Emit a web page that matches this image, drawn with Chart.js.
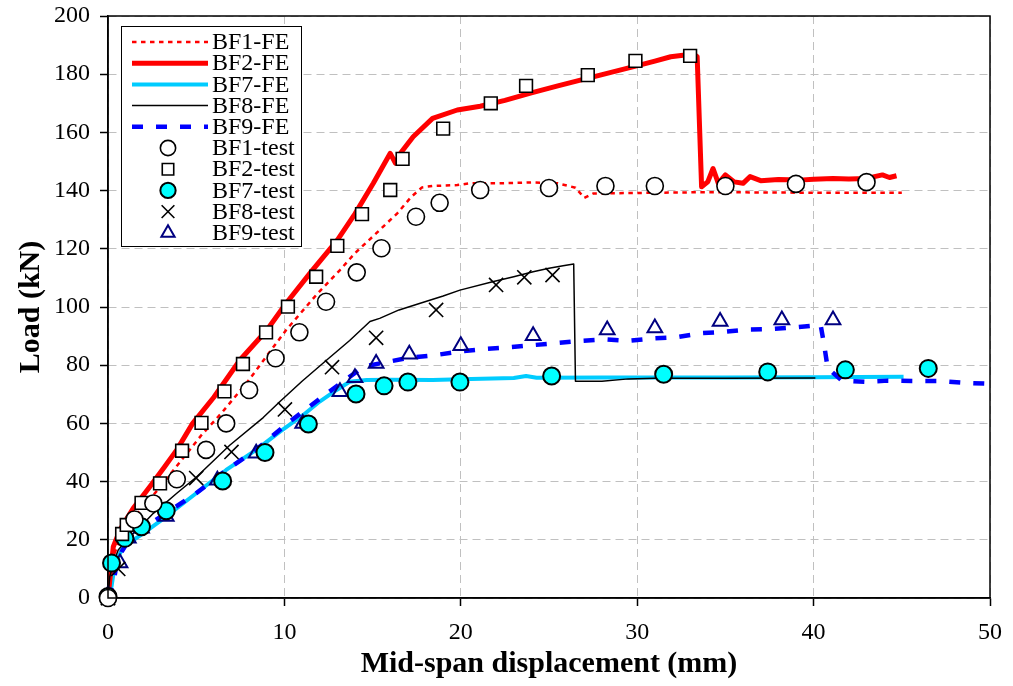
<!DOCTYPE html>
<html><head><meta charset="utf-8">
<script src="https://cdn.jsdelivr.net/npm/chart.js@4.4.1/dist/chart.umd.min.js"></script>
<style>html,body{margin:0;padding:0;background:#fff;}#wrap{width:1013px;height:686px;}</style>
</head><body><div id="wrap"><canvas id="c" width="1013" height="686"></canvas></div>
<script>
const xTickValues = [0, 10, 20, 30, 40, 50];
const yTickValues = [0, 20, 40, 60, 80, 100, 120, 140, 160, 180, 200];
const xTitle = 'Mid-span displacement (mm)';
const yTitle = 'Load (kN)';
const legendOrder = ['BF1-FE','BF2-FE','BF7-FE','BF8-FE','BF9-FE','BF1-test','BF2-test','BF7-test','BF8-test','BF9-test'];

// FE curves
const bf1FeX = [0,0.1,0.3,0.7,1.5,2.8,4.25,5.3,6.5,8,9.1,10.1,11.8,13.15,14,15.2,16.4,17.2,17.8,18.4,19.8,20.5,22,24,25.5,26.5,27,27.5,30,33,36,39,42,45];
const bf1FeY = [0,6,14,21,28,37,48,56,64,75,84,92.1,104.1,112.7,118.5,125.3,132.2,137.9,141.1,141.6,141.9,142.5,142.5,142.8,142.5,141,137.5,139,139.2,139.4,139.4,139.3,139.3,139.3];
const bf2FeX = [0,0.1,0.3,0.68,1.43,2.38,3.2,3.9,4.8,6,7.48,9,10.1,11.5,13,14,15.04,16,16.3,16.6,17.3,18.4,19.8,21.1,22.5,24,25.5,27,27.9,29.8,31,31.9,32.6,33.2,33.4,33.65,34,34.3,34.6,35,35.5,36,36.4,37,38,39.2,40,41.1,42,43,43.9,44.3,44.7];
const bf2FeY = [0,6,17.6,23.4,30.8,38.3,45,50.9,60,69,81.8,92,101.3,112,123,132,142.5,152.8,149.4,153,158.5,164.8,167.7,169,171,173.6,176,178.3,179.7,182.6,184.5,186,186.5,187,186,141.3,143,147.6,142.5,145.4,143,142.5,144.8,143.4,143.8,143.6,143.9,144.2,144,144.2,145.4,144.5,145.1];
const bf7FeX = [0,0.2,0.4,0.87,2,3.3,5,6.7,8.4,9.75,11.07,12,12.96,13.7,14.66,16,18.4,20,23,23.7,24.3,28,35,40,45.1];
const bf7FeY = [0,4,12,17.6,22.2,28,36,44,50.9,57.2,62.9,67.5,71.5,74.3,74.9,75,74.9,75.2,75.6,76.3,75.7,75.8,75.8,75.9,76];
const bf8FeX = [0,0.1,0.3,0.58,1.0,1.43,2.0,2.57,3.9,5.0,6.9,8.8,9.75,11,12.4,13.7,14.85,15.4,16.5,17.7,19,19.95,21.8,23,24.1,25,25.8,26.4,26.5,28,29.5,31,35,40.1];
const bf8FeY = [0,7.3,12,16.5,19.5,22.2,25.5,29.1,36,41.5,52.5,62,67.5,74.5,81.8,88.5,95,96.1,99,101.3,103.8,105.8,108.7,110.4,112.1,113.3,114.2,114.8,74.5,74.5,75.3,75.5,75.5,75.6];
const bf9FeX = [0,0.2,0.3,0.5,0.78,1.2,2.0,3.0,4.0,5,6.5,8.4,10.3,11.8,13.06,14.5,15.9,17,18.6,20,21.4,22.8,24.1,25.4,26.85,28.2,29.5,30.9,32.2,33.65,35,36.4,37.6,39,40.4,40.6,40.8,41.6,42.9,44.2,45.6,47,48.4,50];
const bf9FeY = [0,3,5,12,16,20,24,28,32,36,43,51,60.6,67.5,73.2,79.5,81.2,82.5,83.5,84.8,85.6,86.2,86.9,87.6,88.4,88.9,88.4,89.2,89.6,91,91.5,92.3,92.4,93,93.8,86.9,79,74.7,74.3,74.7,74.6,74.6,74,73.6];

// Test points
const bf1TestX = [0,1.5,2.57,3.9,5.56,6.7,8,9.5,10.85,12.36,14.1,15.5,17.46,18.8,21.1,25,28.2,31,35,39,43];
const bf1TestY = [0,27,32.5,40.8,50.9,60,71.5,82.4,91.3,101.8,111.9,120.2,131,135.8,140.2,140.9,141.6,141.6,141.6,142.3,142.9];
const bf2TestX = [0,0.8,1.06,1.9,2.95,4.2,5.3,6.6,7.65,8.96,10.2,11.8,13,14.4,16,16.7,19,21.7,23.7,27.2,29.9,33];
const bf2TestY = [0,22,25.1,32.7,39.4,50.6,60.2,71,80.4,91.3,100.1,110.4,121,131.9,140.2,150.9,161.3,170,176,179.7,184.6,186.3];
const bf7TestX = [0,0.2,0.96,1.9,3.3,6.5,8.9,11.36,14.06,15.65,17,19.95,25.15,31.5,37.4,41.8,46.5];
const bf7TestY = [0.5,12,20.5,24.5,30,40.2,50,59.8,70.1,72.9,74.2,74.2,76.3,76.9,77.7,78.4,78.9];
const bf8TestX = [0,0.58,5,7,10.03,12.7,15.2,18.6,22,23.6,25.2];
const bf8TestY = [0,10,41.2,50.2,64.8,79.3,89.4,99,107.6,110.2,111];
const bf9TestX = [0,0.68,1.15,1.9,3.3,6.2,8.4,11.04,13.15,14,15.2,17.08,20,24.1,28.3,31,34.7,38.2,41.1];
const bf9TestY = [1,12,20.5,24,28,40.5,49.7,60,70.9,75.7,80.6,83.8,86.7,90.1,92.1,92.8,95,95.5,95.5];

const pts = (xs, ys) => xs.map((x, i) => ({x: x, y: ys[i]}));
const SERIF = '"Liberation Serif", "Times New Roman", serif';

function feSet(label, xs, ys, color, width, dash, order) {
  return {label, data: pts(xs, ys), showLine: true, borderColor: color, backgroundColor: color,
    borderWidth: width, borderDash: dash, pointRadius: 0, pointHoverRadius: 0, tension: 0, fill: false, order: order,
    borderCapStyle: 'butt', borderJoinStyle: 'round'};
}
function testSet(label, xs, ys, style, radius, fill, stroke, bw) {
  return {label, data: pts(xs, ys), showLine: false, pointStyle: style, pointRadius: radius, pointHoverRadius: radius,
    backgroundColor: fill, borderColor: stroke, pointBorderWidth: bw, borderWidth: bw, order: 0, clip: false};
}

const datasets = [
  testSet('BF1-test', bf1TestX, bf1TestY, 'circle', 8.5, '#ffffff', '#000000', 1.6),
  testSet('BF2-test', bf2TestX, bf2TestY, 'rect', 9, '#ffffff', '#000000', 1.6),
  testSet('BF7-test', bf7TestX, bf7TestY, 'circle', 8.5, '#00ffff', '#000000', 2),
  testSet('BF8-test', bf8TestX, bf8TestY, 'crossRot', 10, '#000000', '#000000', 1.6),
  testSet('BF9-test', bf9TestX, bf9TestY, 'triangle', 8.5, 'rgba(0,0,0,0)', '#000080', 2),
  feSet('BF9-FE', bf9FeX, bf9FeY, '#0000ff', 4.5, [11, 13], 1),
  feSet('BF8-FE', bf8FeX, bf8FeY, '#000000', 1.5, [], 2),
  feSet('BF1-FE', bf1FeX, bf1FeY, '#ff0000', 2.5, [4.5, 4.5], 3),
  feSet('BF2-FE', bf2FeX, bf2FeY, '#ff0000', 5, [], 4),
  feSet('BF7-FE', bf7FeX, bf7FeY, '#00ccff', 4, [], 5)
];

function drawMarker(ctx, style, x, y, r, fill, stroke, bw) {
  ctx.save();
  ctx.lineWidth = bw; ctx.strokeStyle = stroke; ctx.fillStyle = fill;
  ctx.beginPath();
  if (style === 'circle') {
    ctx.arc(x, y, r, 0, Math.PI * 2);
    ctx.fill(); ctx.stroke();
  } else if (style === 'rect') {
    const s = r * Math.SQRT1_2;
    ctx.rect(x - s, y - s, 2 * s, 2 * s);
    ctx.fill(); ctx.stroke();
  } else if (style === 'crossRot') {
    const s = r * Math.SQRT1_2;
    ctx.moveTo(x - s, y - s); ctx.lineTo(x + s, y + s);
    ctx.moveTo(x + s, y - s); ctx.lineTo(x - s, y + s);
    ctx.stroke();
  } else if (style === 'triangle') {
    for (let k = 0; k < 3; k++) {
      const a = k * 2 * Math.PI / 3;
      const px = x + Math.sin(a) * r, py = y - Math.cos(a) * r;
      if (k === 0) ctx.moveTo(px, py); else ctx.lineTo(px, py);
    }
    ctx.closePath(); ctx.fill(); ctx.stroke();
  }
  ctx.restore();
}

const framePlugin = {
  id: 'frameAndLegend',
  afterDraw(chart) {
    const ctx = chart.ctx, ca = chart.chartArea;
    ctx.save();
    ctx.strokeStyle = '#000'; ctx.lineWidth = 1.5; ctx.setLineDash([]);
    ctx.strokeRect(ca.left, ca.top, ca.right - ca.left, ca.bottom - ca.top);
    // legend box
    const bx = 121, by = 26, bw = 180, bh = 220;
    ctx.fillStyle = '#fff'; ctx.fillRect(bx, by, bw, bh);
    ctx.lineWidth = 1; ctx.strokeStyle = '#000';
    ctx.strokeRect(bx + 0.5, by + 0.5, bw, bh);
    ctx.font = '24px ' + SERIF; ctx.textBaseline = 'middle'; ctx.textAlign = 'left';
    legendOrder.forEach((label, i) => {
      const ds = chart.data.datasets.find(d => d.label === label);
      const y = 42 + i * 21.2;
      if (ds.showLine) {
        ctx.save();
        ctx.strokeStyle = ds.borderColor; ctx.lineWidth = ds.borderWidth;
        ctx.setLineDash(ds.borderDash || []); ctx.lineCap = 'butt';
        ctx.beginPath(); ctx.moveTo(132, y); ctx.lineTo(208, y); ctx.stroke();
        ctx.restore();
      } else {
        drawMarker(ctx, ds.pointStyle, 168, y, ds.pointRadius * 0.9, ds.backgroundColor, ds.borderColor, ds.pointBorderWidth);
      }
      ctx.fillStyle = '#000';
      ctx.fillText(label, 212, y + 1);
    });
    ctx.restore();
  }
};

new Chart(document.getElementById('c'), {
  type: 'scatter',
  data: {datasets},
  options: {
    responsive: false, animation: false, devicePixelRatio: 1,
    layout: {padding: {top: 16, right: 23, left: 0, bottom: 0}},
    plugins: {legend: {display: false}, tooltip: {enabled: false}},
    scales: {
      x: {
        type: 'linear', min: 0, max: 50,
        afterBuildTicks(s) { s.ticks = xTickValues.map(v => ({value: v})); },
        afterFit(s) { s.height = 88; s.paddingLeft = 0; s.paddingRight = 0; },
        ticks: {font: {family: SERIF, size: 24}, color: '#000', padding: 12, maxRotation: 0, autoSkip: false},
        grid: {color: '#c0c0c0', lineWidth: 1, tickLength: 8, tickColor: '#000', tickWidth: 1.5},
        border: {display: true, color: '#000', width: 1.5, dash: [8, 5]},
        title: {display: true, text: xTitle, color: '#000', font: {family: SERIF, size: 30, weight: 'bold'}, padding: {top: 0, bottom: 4}}
      },
      y: {
        type: 'linear', min: 0, max: 200,
        afterBuildTicks(s) { s.ticks = yTickValues.map(v => ({value: v})); },
        afterFit(s) { s.width = 108; s.paddingTop = 0; s.paddingBottom = 0; },
        ticks: {font: {family: SERIF, size: 24}, color: '#000', padding: 10, autoSkip: false},
        grid: {color: '#c0c0c0', lineWidth: 1, tickLength: 8, tickColor: '#000', tickWidth: 1.5},
        border: {display: true, color: '#000', width: 1.5, dash: [8, 5]},
        title: {display: true, text: yTitle, color: '#000', font: {family: SERIF, size: 30, weight: 'bold'}, padding: {top: 13, bottom: 0}}
      }
    }
  },
  plugins: [framePlugin]
});
</script>
</body></html>
